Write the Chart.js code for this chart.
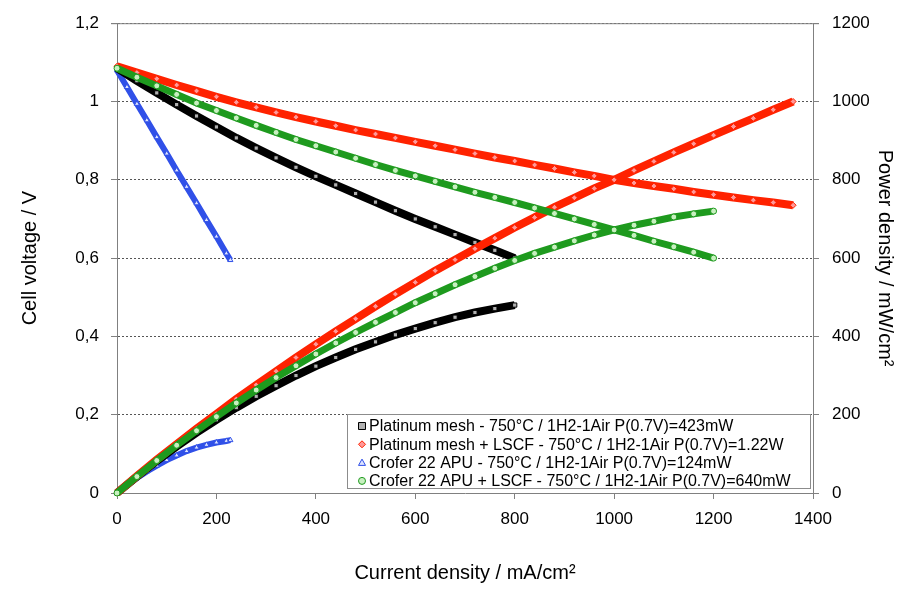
<!DOCTYPE html>
<html>
<head>
<meta charset="utf-8">
<script src="https://cdn.jsdelivr.net/npm/chart.js@4/dist/chart.umd.min.js"></script>
<style>
  html, body { margin: 0; padding: 0; background: #fff; }
  #chart { display: block; }
</style>
</head>
<body>
<canvas id="chart" width="901" height="589"></canvas>
<script>
// Platinum mesh - 750°C
const currentPt = [0, 40, 80, 120, 160, 200, 240, 280, 320, 360, 400, 440, 480, 520, 560, 600, 640, 680, 720, 760, 800];
const voltagePt = [1.085, 1.053, 1.022, 0.992, 0.963, 0.935, 0.907, 0.881, 0.856, 0.832, 0.809, 0.787, 0.765, 0.743, 0.721, 0.700, 0.680, 0.660, 0.640, 0.620, 0.600];
const powerPt = [0, 42, 82, 119, 154, 187, 218, 247, 274, 300, 324, 346, 367, 386, 404, 420, 435, 449, 461, 471, 480];

// Platinum mesh + LSCF
const currentPtLscf = [0, 40, 80, 120, 160, 200, 240, 280, 320, 360, 400, 440, 480, 520, 560, 600, 640, 680, 720, 760, 800, 840, 880, 920, 960, 1000, 1040, 1080, 1120, 1160, 1200, 1240, 1280, 1320, 1360];
const voltagePtLscf = [1.090, 1.074, 1.058, 1.042, 1.027, 1.012, 0.998, 0.985, 0.972, 0.960, 0.949, 0.938, 0.927, 0.917, 0.907, 0.897, 0.887, 0.877, 0.867, 0.857, 0.848, 0.838, 0.829, 0.819, 0.810, 0.800, 0.792, 0.784, 0.777, 0.769, 0.762, 0.755, 0.748, 0.742, 0.735];
const powerPtLscf = [0, 43, 85, 125, 164, 202, 240, 276, 311, 346, 380, 413, 445, 477, 508, 538, 568, 596, 624, 651, 678, 704, 730, 754, 778, 800, 824, 847, 870, 892, 914, 936, 957, 979, 1000];

// Crofer 22 APU
const currentCrofer = [0, 20, 40, 60, 80, 100, 120, 140, 160, 180, 200, 220, 228];
const voltageCrofer = [1.080, 1.037, 0.994, 0.952, 0.909, 0.867, 0.824, 0.782, 0.740, 0.697, 0.655, 0.612, 0.595];
const powerCrofer = [0, 20, 38, 55, 70, 84, 96, 107, 116, 123, 129, 133, 135];

// Crofer 22 APU + LSCF
const currentCroferLscf = [0, 40, 80, 120, 160, 200, 240, 280, 320, 360, 400, 440, 480, 520, 560, 600, 640, 680, 720, 760, 800, 840, 880, 920, 960, 1000, 1040, 1080, 1120, 1160, 1200];
const voltageCroferLscf = [1.085, 1.062, 1.040, 1.018, 0.996, 0.977, 0.958, 0.939, 0.921, 0.903, 0.887, 0.871, 0.855, 0.839, 0.824, 0.810, 0.796, 0.782, 0.768, 0.755, 0.742, 0.728, 0.714, 0.700, 0.686, 0.672, 0.658, 0.643, 0.629, 0.615, 0.600];
const powerCroferLscf = [0, 42, 83, 122, 159, 195, 230, 263, 295, 325, 355, 383, 410, 436, 461, 486, 509, 532, 553, 574, 594, 612, 628, 644, 659, 672, 684, 694, 705, 713, 720];

const seriesLabels = [
    'Platinum mesh - 750°C / 1H2-1Air P(0.7V)=423mW',
    'Platinum mesh + LSCF - 750°C / 1H2-1Air P(0.7V)=1.22W',
    'Crofer 22 APU - 750°C / 1H2-1Air P(0.7V)=124mW',
    'Crofer 22 APU + LSCF - 750°C / 1H2-1Air P(0.7V)=640mW'
];

function pairs(xs, ys) {
    return xs.map((x, i) => ({ x: x, y: ys[i] }));
}

const styles = [
    { line: '#000000', fill: '#b0b0b0', shape: 'rect', width: 8, radius: 3 },
    { line: '#ff2200', fill: '#ff9999', shape: 'rectRot', width: 8, radius: 3 },
    { line: '#3050e8', fill: '#dde4ff', shape: 'triangle', width: 6, radius: 3 },
    { line: '#1e9a1e', fill: '#c8f0c0', shape: 'circle', width: 7, radius: 3 }
];

const series = [
    [currentPt, voltagePt, powerPt],
    [currentPtLscf, voltagePtLscf, powerPtLscf],
    [currentCrofer, voltageCrofer, powerCrofer],
    [currentCroferLscf, voltageCroferLscf, powerCroferLscf]
];

// draw order: green on top, then red, black, blue
const drawOrder = [3, 1, 0, 2];
const datasets = [];
drawOrder.forEach(idx => {
    const s = styles[idx];
    const [xs, v, p] = series[idx];
    [['y', v], ['y2', p]].forEach(([axis, ys]) => {
        datasets.push({
            label: seriesLabels[idx],
            data: pairs(xs, ys),
            yAxisID: axis,
            borderColor: s.line,
            borderWidth: s.width,
            backgroundColor: s.fill,
            pointStyle: s.shape,
            pointRadius: s.radius,
            pointBorderWidth: 1,
            pointBorderColor: s.line,
            pointBackgroundColor: s.fill,
            fill: false,
            tension: 0,
            clip: false
        });
    });
});

const FONT = "'Liberation Sans', Arial, sans-serif";
const axisGray = '#808080';

function drawShape(ctx, shape, x, y, r) {
    if (shape === 'rect') {
        ctx.rect(x - r, y - r, 2 * r, 2 * r);
    } else if (shape === 'rectRot') {
        ctx.moveTo(x, y - r); ctx.lineTo(x + r, y); ctx.lineTo(x, y + r); ctx.lineTo(x - r, y); ctx.closePath();
    } else if (shape === 'triangle') {
        ctx.moveTo(x, y - r); ctx.lineTo(x + r, y + r * 0.8); ctx.lineTo(x - r, y + r * 0.8); ctx.closePath();
    } else {
        ctx.arc(x, y, r, 0, Math.PI * 2);
    }
}

// solid frame line on top of the plot + the boxed legend inside the plot
const framePlugin = {
    id: 'frameAndLegend',
    afterDraw(chart) {
        const ctx = chart.ctx;
        const a = chart.chartArea;
        ctx.save();
        ctx.strokeStyle = axisGray;
        ctx.lineWidth = 1;
        ctx.beginPath();
        ctx.moveTo(a.left - 6, a.top + 0.5);
        ctx.lineTo(a.right + 6, a.top + 0.5);
        ctx.stroke();

        // legend box
        const box = { left: 347, top: 414, right: 810, bottom: 488 };
        ctx.fillStyle = '#ffffff';
        ctx.fillRect(box.left, box.top, box.right - box.left, box.bottom - box.top);
        ctx.strokeStyle = '#8c8c8c';
        ctx.strokeRect(box.left + 0.5, box.top + 0.5, box.right - box.left, box.bottom - box.top);

        ctx.font = '16px ' + FONT;
        ctx.textBaseline = 'middle';
        ctx.textAlign = 'left';
        seriesLabels.forEach((text, i) => {
            const s = styles[i];
            const cy = box.top + 12 + i * 18.3;
            ctx.fillStyle = s.fill;
            ctx.strokeStyle = s.line;
            ctx.lineWidth = 1;
            ctx.beginPath();
            drawShape(ctx, s.shape, 362, cy, 3.5);
            ctx.fill();
            ctx.stroke();
            ctx.fillStyle = '#000';
            ctx.fillText(text, 369, cy + 1);
        });
        ctx.restore();
    }
};

const plainNumber = v => String(v);

new Chart(document.getElementById('chart').getContext('2d'), {
    type: 'line',
    data: { datasets: datasets },
    options: {
        responsive: false,
        animation: false,
        layout: { padding: { top: 18, left: 0, right: 0, bottom: 0 } },
        plugins: {
            legend: { display: false },
            tooltip: { enabled: false }
        },
        scales: {
            x: {
                type: 'linear',
                min: 0, max: 1400,
                ticks: { stepSize: 200, color: '#000', font: { family: FONT, size: 17 }, padding: 10, callback: plainNumber },
                grid: { drawOnChartArea: false, tickLength: 6, tickColor: axisGray },
                border: { color: axisGray },
                title: { display: true, text: 'Current density / mA/cm²', color: '#000', font: { family: FONT, size: 20 }, padding: { top: 4, bottom: 4 } },
                afterFit(scale) { scale.height = 96; }
            },
            y: {
                position: 'left',
                min: 0, max: 1.2,
                ticks: {
                    stepSize: 0.2, color: '#000', font: { family: FONT, size: 17 }, padding: 12,
                    callback: v => (Math.round(v * 10) / 10).toString().replace('.', ',')
                },
                grid: { color: '#555', lineWidth: 1, tickLength: 6, tickColor: axisGray, tickBorderDash: [] },
                border: { color: axisGray, dash: [2, 2] },
                title: { display: true, text: 'Cell voltage / V', color: '#000', font: { family: FONT, size: 20 }, padding: { top: 18, bottom: 0 } },
                afterFit(scale) { scale.width = 117; }
            },
            y2: {
                position: 'right',
                min: 0, max: 1200,
                ticks: { stepSize: 200, color: '#000', font: { family: FONT, size: 17 }, padding: 13, callback: plainNumber },
                grid: { drawOnChartArea: false, tickLength: 6, tickColor: axisGray },
                border: { color: axisGray },
                title: { display: true, text: 'Power density / mW/cm²', color: '#000', font: { family: FONT, size: 20 }, padding: { top: 4, bottom: 0 } },
                afterFit(scale) { scale.width = 88; }
            }
        }
    },
    plugins: [framePlugin]
});
</script>
</body>
</html>
